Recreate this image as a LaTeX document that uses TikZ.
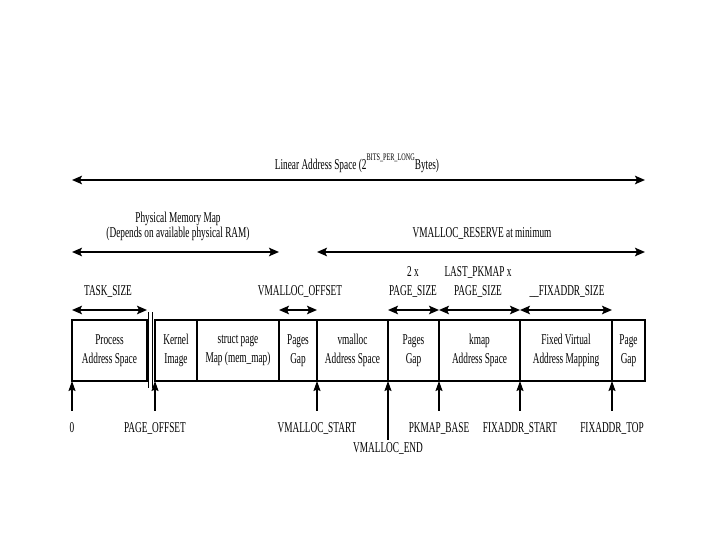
\documentclass[tikz,border=0pt]{standalone}
\usepackage{fontspec}
\setmainfont{Liberation Serif}[FakeStretch=0.62]
\usepackage{tikz}
\usetikzlibrary{arrows.meta,positioning,calc}

\begin{document}
\begin{tikzpicture}[x=1pt, y=-1pt,
    membox/.style={rectangle, draw=black, line width=1.2pt, minimum height=61pt, inner sep=0pt, outer sep=0pt, align=center, font=\fontsize{15}{18.5}\selectfont},
    lbl/.style={inner sep=0pt, align=center, font=\fontsize{15}{18}\selectfont},
    addrlbl/.style={lbl, text height=10pt, text depth=2pt, inner ysep=11pt},
    dim/.style={{Stealth[length=10pt,width=8.5pt,inset=2pt]}-{Stealth[length=10pt,width=8.5pt,inset=2pt]}, line width=1.7pt},
    ptr/.style={-{Stealth[length=10pt,width=7pt,inset=1.5pt]}, line width=1.2pt}
]
\useasboundingbox (0,0) rectangle (720,540);

\node[membox, minimum width=75pt] (pas) at (109.5,350.5) {Process\\Address Space};
\node[membox, minimum width=42pt] (kimg) at (176,350.5) {Kernel\\Image};
\node[membox, minimum width=82pt] (smap) at (238,350.5) {struct page\\Map (mem\_map)};
\node[membox, minimum width=38pt] (gapa) at (298,350.5) {Pages\\Gap};
\node[membox, minimum width=71pt] (vspace) at (352.5,350.5) {vmalloc\\Address Space};
\node[membox, minimum width=51pt] (gapb) at (413.5,350.5) {Pages\\Gap};
\node[membox, minimum width=81pt] (kmap) at (479.5,350.5) {kmap\\Address Space};
\node[membox, minimum width=92pt] (fixmap) at (566,350.5) {Fixed Virtual\\Address Mapping};
\node[membox, minimum width=33pt] (gapc) at (628.5,350.5) {Page\\Gap};

\draw[line width=1.2pt] (148.5,312) -- (148.5,388) (152.5,312) -- (152.5,388);

\node[lbl, anchor=base] (linlbl) at (357,170) {Linear Address Space (2\raisebox{9pt}{\fontsize{10}{10}\selectfont BITS\_PER\_LONG}Bytes)};
\node[lbl, font=\fontsize{15}{15}\selectfont] (physlbl) at (178,226) {Physical Memory Map\\(Depends on available physical RAM)};
\node[lbl] (reslbl) at (482,234) {VMALLOC\_RESERVE at minimum};
\node[lbl] (tasklbl) at (108,292) {TASK\_SIZE};
\node[lbl] (offlbl) at (300,292) {VMALLOC\_OFFSET};
\node[lbl] (pglbl) at (413,282) {2 x\\PAGE\_SIZE};
\node[lbl] (pklbl) at (478,282) {LAST\_PKMAP x\\PAGE\_SIZE};
\node[lbl] (fixlbl) at (567,292) {\_\_FIXADDR\_SIZE};

\draw[dim] ([yshift=140pt]pas.north west) -- ([yshift=140pt]gapc.north east);
\draw[dim] ([yshift=68pt]pas.north west) -- ([yshift=68pt]smap.north east);
\draw[dim] ([yshift=68pt]vspace.north west) -- ([yshift=68pt]gapc.north east);
\draw[dim] ([yshift=10pt]pas.north west) -- ([yshift=10pt]pas.north east);
\draw[dim] ([yshift=10pt]gapa.north west) -- ([yshift=10pt]gapa.north east);
\draw[dim] ([yshift=10pt]gapb.north west) -- ([yshift=10pt]gapb.north east);
\draw[dim] ([yshift=10pt]kmap.north west) -- ([yshift=10pt]kmap.north east);
\draw[dim] ([yshift=10pt]fixmap.north west) -- ([yshift=10pt]fixmap.north east);

\node[addrlbl] (zero) at (72,428) {0};
\node[addrlbl] (poff) at (155,428) {PAGE\_OFFSET};
\node[addrlbl] (vstart) at (317,428) {VMALLOC\_START};
\node[addrlbl, inner ysep=2pt] (vend) at (388,448) {VMALLOC\_END};
\node[addrlbl] (pkbase) at (439,428) {PKMAP\_BASE};
\node[addrlbl] (fstart) at (520,428) {FIXADDR\_START};
\node[addrlbl] (ftop) at (612,428) {FIXADDR\_TOP};

\draw[ptr] (zero.north) -- (zero.north |- pas.south);
\draw[ptr] (poff.north) -- (poff.north |- kimg.south);
\draw[ptr] (vstart.north) -- (vstart.north |- vspace.south);
\draw[ptr] (vend.north) -- (vend.north |- vspace.south);
\draw[ptr] (pkbase.north) -- (pkbase.north |- kmap.south);
\draw[ptr] (fstart.north) -- (fstart.north |- fixmap.south);
\draw[ptr] (ftop.north) -- (ftop.north |- gapc.south);

\end{tikzpicture}
\end{document}
